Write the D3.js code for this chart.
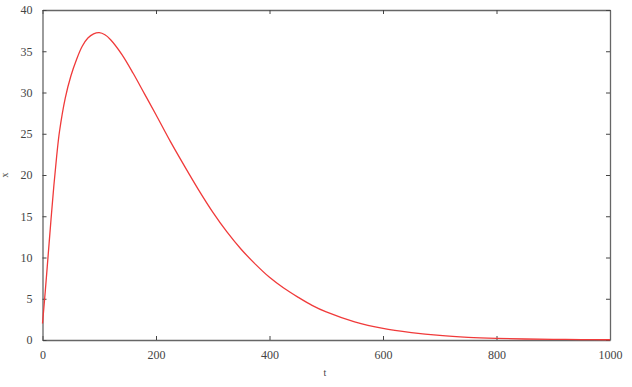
<!DOCTYPE html>
<html>
<head>
<meta charset="utf-8">
<script src="https://cdn.jsdelivr.net/npm/d3@7"></script>
<style>
  body { margin: 0; background: #fff; }
  text { font-family: "Liberation Serif", "DejaVu Serif", serif; fill: #444; }
</style>
</head>
<body>
<svg id="chart" width="632" height="387"></svg>
<script>
// values
const tValues = [0, 5, 10, 15, 20, 25, 30, 40, 50, 60, 70, 80, 90, 100, 110, 120, 140, 160, 180, 200, 225, 250, 275, 300, 325, 350, 375, 400, 425, 450, 475, 500, 550, 600, 650, 700, 750, 800, 850, 900, 950, 1000];
const xValues = [2, 6, 10.3, 14.6, 18.7, 22.3, 25.3, 29.3, 32, 34, 35.6, 36.6, 37.1, 37.25, 37.0, 36.4, 34.6, 32.3, 29.8, 27.3, 24.1, 21.1, 18.2, 15.5, 13.1, 11.0, 9.2, 7.6, 6.3, 5.2, 4.2, 3.4, 2.2, 1.4, 0.9, 0.55, 0.33, 0.2, 0.12, 0.08, 0.05, 0.03];
const xTicks = [0, 200, 400, 600, 800, 1000];
const yTicks = [0, 5, 10, 15, 20, 25, 30, 35, 40];

const data = tValues.map((t, i) => ({ t: t, x: xValues[i] }));

const margin = { left: 42.5, right: 22, top: 10, bottom: 47 };
const width = 632, height = 387;

const svg = d3.select("#chart");

const xScale = d3.scaleLinear().domain([0, 1000]).range([margin.left, width - margin.right]);
const yScale = d3.scaleLinear().domain([0, 40]).range([height - margin.bottom, margin.top]);

// four axes, ticks pointing inward
const axisBottomG = svg.append("g")
  .attr("transform", `translate(0,${yScale(0)})`)
  .call(d3.axisBottom(xScale).tickValues(xTicks).tickFormat(d3.format("d"))
    .tickSizeInner(-4).tickSizeOuter(0).tickPadding(10));
const axisTopG = svg.append("g")
  .attr("transform", `translate(0,${yScale(40)})`)
  .call(d3.axisTop(xScale).tickValues(xTicks).tickSizeInner(-4).tickSizeOuter(0).tickFormat(""));
const axisLeftG = svg.append("g")
  .attr("transform", `translate(${xScale(0)},0)`)
  .call(d3.axisLeft(yScale).tickValues(yTicks).tickSizeInner(-4).tickSizeOuter(0).tickPadding(10));
const axisRightG = svg.append("g")
  .attr("transform", `translate(${xScale(1000)},0)`)
  .call(d3.axisRight(yScale).tickValues(yTicks).tickSizeInner(-4).tickSizeOuter(0).tickFormat(""));

[axisBottomG, axisTopG, axisLeftG, axisRightG].forEach(g => {
  g.select(".domain").attr("stroke", "#666").attr("stroke-width", 1.3);
  g.selectAll(".tick line").attr("stroke", "#444");
  g.selectAll("text").attr("font-size", 12).attr("fill", "#444")
    .style("font-family", '"Liberation Serif", "DejaVu Serif", serif');
});

// the curve
const line = d3.line()
  .x(d => xScale(d.t))
  .y(d => yScale(d.x))
  .curve(d3.curveCatmullRom.alpha(0.5));

svg.append("path")
  .datum(data)
  .attr("fill", "none")
  .attr("stroke", "#f03a3a")
  .attr("stroke-width", 1.3)
  .attr("d", line);

// axis titles
svg.append("text")
  .attr("x", 325).attr("y", 376)
  .attr("text-anchor", "middle")
  .attr("font-size", 10)
  .text("t");

svg.append("text")
  .attr("transform", "translate(8,175) rotate(-90)")
  .attr("text-anchor", "middle")
  .attr("font-size", 10)
  .text("x");
</script>
</body>
</html>
